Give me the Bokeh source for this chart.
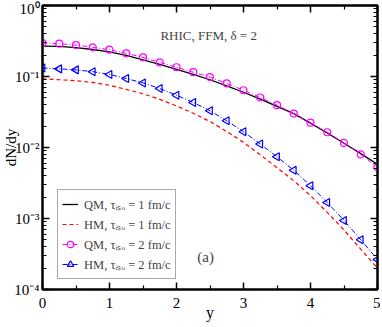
from math import pi
from bokeh.plotting import figure
from bokeh.models import (FixedTicker, LinearAxis, LogAxis, Label, Legend, LegendItem,
                          CustomJSTickFormatter)
from bokeh.embed import file_html
from bokeh.resources import INLINE

FONT = "Liberation Serif"

y_rap = [0.0, 0.25, 0.5, 0.75, 1.0, 1.25, 1.5, 1.75, 2.0, 2.25, 2.5, 2.75,
         3.0, 3.25, 3.5, 3.75, 4.0, 4.25, 4.5, 4.75, 5.0]
qm_tau1 = [0.268, 0.265, 0.255, 0.240, 0.222, 0.198, 0.172, 0.148, 0.126, 0.107, 0.090,
           0.074, 0.060, 0.048, 0.038, 0.030, 0.022, 0.016, 0.0115, 0.0082, 0.0058]
hm_tau1 = [0.093, 0.090, 0.0873, 0.0825, 0.0752, 0.0659, 0.0572, 0.0477, 0.0385, 0.0304,
           0.0232, 0.0168, 0.0118, 0.0079, 0.0052, 0.0034, 0.0021, 0.00122, 0.00069,
           0.00037, 0.000200]
qm_tau2 = [0.296, 0.290, 0.277, 0.258, 0.239, 0.212, 0.186, 0.158, 0.135, 0.115, 0.098,
           0.080, 0.064, 0.0506, 0.0395, 0.030, 0.0224, 0.0164, 0.0116, 0.0080, 0.00527]
hm_tau2 = [0.132, 0.128, 0.124, 0.117, 0.107, 0.0936, 0.0812, 0.0677, 0.0546, 0.0431,
           0.0329, 0.0238, 0.0167, 0.0112, 0.0074, 0.00479, 0.00289, 0.00168, 0.00094,
           0.000503, 0.000264]

x_ticks = [0, 1, 2, 3, 4, 5]
x_minor = [0.5, 1.5, 2.5, 3.5, 4.5]
y_ticks = [1e-4, 1e-3, 1e-2, 1e-1, 1.0]
y_minor = [m * d for d in [1e-4, 1e-3, 1e-2, 1e-1] for m in range(2, 10)]

labels = ["QM, \u03c4\u1d62\u209b\u2092 = 1 fm/c",
          "HM, \u03c4\u1d62\u209b\u2092 = 1 fm/c",
          "QM, \u03c4\u1d62\u209b\u2092 = 2 fm/c",
          "HM, \u03c4\u1d62\u209b\u2092 = 2 fm/c"]

p = figure(frame_width=335, frame_height=284, y_axis_type="log", x_range=(0, 5),
           y_range=(1e-4, 1), output_backend="svg", toolbar_location=None,
           min_border_left=0, min_border_right=0, min_border_top=0, min_border_bottom=0)
p.xgrid.visible = False
p.ygrid.visible = False
p.outline_line_color = "black"
p.outline_line_width = 2

r1 = p.line(y_rap, qm_tau1, line_color="black", line_width=1.3)
r2 = p.line(y_rap, hm_tau1, line_color="#ff0000", line_width=1.2, line_dash="4 3")
r3l = p.line(y_rap, qm_tau2, line_color="#ff00ff", line_width=1, line_dash="5 2 1 2")
r3m = p.scatter(y_rap, qm_tau2, marker="circle", size=7, fill_color=None,
                line_color="#ff00ff", line_width=1.2)
r4l = p.line(y_rap, hm_tau2, line_color="#0000ff", line_width=1, line_dash="5 2 1 2")
r4m = p.scatter(y_rap, hm_tau2, marker="triangle", angle=pi / 2, size=8, fill_color=None,
                line_color="#0000ff", line_width=1.2)

fmt = CustomJSTickFormatter(code="""
const sup = {"0":"\u2070","1":"\u00b9","2":"\u00b2","3":"\u00b3","4":"\u2074","-":"\u207b"};
const e = Math.round(Math.log10(tick)).toString();
return "10" + e.split("").map(c => sup[c]).join("");
""")
blank = CustomJSTickFormatter(code="return ' ';")

xt = FixedTicker(ticks=x_ticks, minor_ticks=x_minor)
yt = FixedTicker(ticks=y_ticks, minor_ticks=y_minor)

def style(ax):
    ax.axis_line_width = 2
    ax.major_tick_in = 7
    ax.major_tick_out = 0
    ax.minor_tick_in = 4
    ax.minor_tick_out = 0
    ax.major_tick_line_width = 1.5
    ax.minor_tick_line_width = 1.2
    ax.major_label_text_font = FONT
    ax.major_label_text_font_style = "normal"
    ax.major_label_text_color = "black"
    ax.axis_label_text_font = FONT
    ax.axis_label_text_font_style = "normal"
    ax.axis_label_text_color = "black"

xa = p.xaxis[0]
ya = p.yaxis[0]
style(xa)
style(ya)
xa.ticker = xt
ya.ticker = yt
ya.formatter = fmt
xa.major_label_text_font_size = "15px"
xa.major_label_standoff = 8
ya.major_label_text_font_size = "15px"
ya.major_label_standoff = 3
xa.axis_label = "y"
xa.axis_label_text_font_size = "16px"
xa.axis_label_standoff = -7
ya.axis_label = "dN/dy"
ya.axis_label_text_font_size = "15px"
ya.axis_label_standoff = -8

top = LinearAxis(ticker=xt, formatter=blank)
style(top)
top.major_label_text_font_size = "1px"
top.major_label_standoff = 1
p.add_layout(top, "above")
right = LogAxis(ticker=yt, formatter=blank)
style(right)
right.major_label_text_font_size = "1px"
right.major_label_standoff = 0
p.add_layout(right, "right")

p.add_layout(Label(x=1.76, y=0.38, text="RHIC, FFM, \u03b4 = 2", text_align="left",
                   text_baseline="middle", text_font=FONT, text_font_size="13px"))
p.add_layout(Label(x=2.31, y=2.9e-4, text="(a)", text_align="left",
                   text_baseline="middle", text_font=FONT, text_font_size="15px"))

legend = Legend(items=[LegendItem(label=labels[0], renderers=[r1]),
                       LegendItem(label=labels[1], renderers=[r2]),
                       LegendItem(label=labels[2], renderers=[r3l, r3m]),
                       LegendItem(label=labels[3], renderers=[r4l, r4m])],
                location=(15, 10), padding=4, spacing=0, margin=0,
                glyph_width=16, glyph_height=20, label_height=20, label_standoff=6,
                label_text_font=FONT, label_text_font_size="12.5px",
                border_line_color="#555555", border_line_width=1,
                background_fill_color="white", background_fill_alpha=1)
p.add_layout(legend, "center")

open("out.html", "w").write(file_html(p, INLINE))
